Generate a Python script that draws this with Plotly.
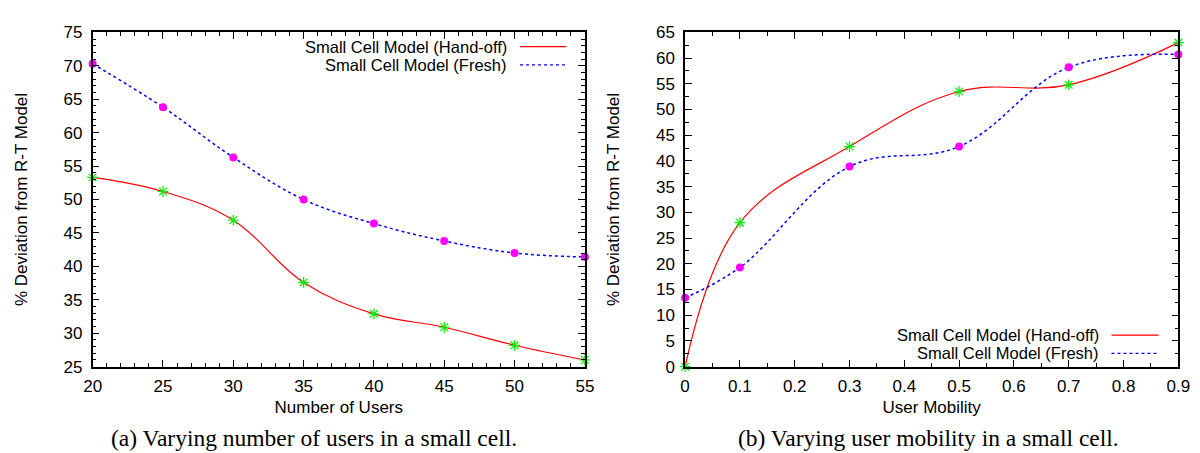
import plotly.graph_objects as go
from plotly.subplots import make_subplots

# ---- data ----
users = [20, 25, 30, 35, 40, 45, 50, 55]
users_handoff = [53.3, 51.2, 46.9, 37.6, 32.9, 30.9, 28.2, 26.0]
users_fresh = [70.3, 63.8, 56.3, 50.0, 46.4, 43.8, 42.0, 41.4]

mobility = [0, 0.1, 0.3, 0.5, 0.7, 0.9]
mob_handoff = [0.0, 28.0, 42.8, 53.5, 54.8, 63.0]
mob_fresh = [13.4, 19.3, 38.9, 42.8, 58.2, 60.7]

name_handoff = "Small Cell Model (Hand-off)"
name_fresh = "Small Cell Model (Fresh)"
ytitle = "% Deviation from R-T Model"
captions = ["(a) Varying number of users in a small cell.",
            "(b) Varying user mobility in a small cell."]

SANS = "Liberation Sans, Arial, sans-serif"
SERIF = "Liberation Serif, Times New Roman, serif"
RED = "#ff0000"
BLUE = "#0000ff"
MAG = "#ff00ff"
GREEN = "#00ee00"
FS = 17

fig = make_subplots(rows=1, cols=2)

def add_series(x, yh, yf, col):
    fig.add_trace(go.Scatter(x=x, y=yh, mode="lines", line=dict(color=RED, width=1.2, shape="spline", smoothing=1.1),
                             name=name_handoff, showlegend=False), row=1, col=col)
    fig.add_trace(go.Scatter(x=x, y=yf, mode="lines", line=dict(color=BLUE, width=1.5, dash="dot", shape="spline", smoothing=1.1),
                             name=name_fresh, showlegend=False), row=1, col=col)
    fig.add_trace(go.Scatter(x=x, y=yh, mode="markers", marker=dict(symbol="asterisk-open", size=9, color=GREEN,
                             line=dict(color=GREEN, width=1.2)), showlegend=False, hoverinfo="skip",
                             cliponaxis=False), row=1, col=col)
    fig.add_trace(go.Scatter(x=x, y=yf, mode="markers", marker=dict(symbol="circle", size=8, color=MAG),
                             showlegend=False, hoverinfo="skip", cliponaxis=False), row=1, col=col)

add_series(users, users_handoff, users_fresh, 1)
add_series(mobility, mob_handoff, mob_fresh, 2)

yb, yt = (453 - 365) / 453, (453 - 16) / 453
dom1 = [77 / 1200, 578 / 1200]
dom2 = [680 / 1200, 1182 / 1200]

axis_common = dict(showline=True, linecolor="black", linewidth=1.5, mirror="ticks", ticks="inside",
                   ticklen=7, tickwidth=1.2, tickcolor="black", showgrid=False, zeroline=False,
                   tickfont=dict(family=SANS, size=FS, color="black"),
                   title_font=dict(family=SANS, size=FS, color="black"))

fig.update_xaxes(**axis_common)
fig.update_yaxes(**axis_common)

minor_style = dict(ticklen=4, ticks="inside", tickcolor="black", tickwidth=1, showgrid=False)

fig.update_xaxes(row=1, col=1, domain=dom1, range=[20, 55], dtick=5, tick0=20,
                 minor=dict(dtick=1, **minor_style),
                 title=dict(text="Number of Users", standoff=6), ticklabelstandoff=3)
fig.update_yaxes(row=1, col=1, domain=[yb, yt], range=[25, 75], dtick=5, tick0=25,
                 minor=dict(dtick=1, **minor_style),
                 title=dict(text=ytitle, standoff=32), ticklabelstandoff=5)
fig.update_xaxes(row=1, col=2, domain=dom2, range=[0, 0.9], dtick=0.1, tick0=0,
                 minor=dict(dtick=0.05, **minor_style),
                 title=dict(text="User Mobility", standoff=6), ticklabelstandoff=3)
fig.update_yaxes(row=1, col=2, domain=[yb, yt], range=[0, 65], dtick=5, tick0=0,
                 minor=dict(dtick=2.5, **minor_style),
                 title=dict(text=ytitle, standoff=32), ticklabelstandoff=5)

# manual gnuplot-style legends (text then line sample)
def px(x):
    return x / 1200
def py(y):
    return (453 - y) / 453

legends = [
    (500, 512, 559, 31, 50),
    (1102, 1114, 1162, 332, 351),
]
for (tx, lx0, lx1, y1, y2) in legends:
    for (txt, yy, col, dash) in [(name_handoff, y1, RED, "solid"), (name_fresh, y2, BLUE, "dot")]:
        fig.add_annotation(x=px(tx), y=py(yy), xref="paper", yref="paper", text=txt, showarrow=False,
                           xanchor="right", yanchor="middle", borderpad=0,
                           font=dict(family=SANS, size=16.5, color="black"))
        fig.add_shape(type="line", xref="paper", yref="paper", x0=px(lx0), x1=px(lx1), y0=py(yy), y1=py(yy),
                      line=dict(color=col, width=1.3, dash=dash))

for cap, cx in zip(captions, [px(302), px(928)]):
    fig.add_annotation(x=cx, y=py(439), xref="paper", yref="paper", text=cap, showarrow=False,
                       xanchor="center", yanchor="middle", font=dict(family=SERIF, size=23.5, color="black"))

fig.update_layout(width=1200, height=453, margin=dict(l=0, r=0, t=0, b=0),
                  paper_bgcolor="white", plot_bgcolor="white", showlegend=False)

fig.write_html("out.html")
